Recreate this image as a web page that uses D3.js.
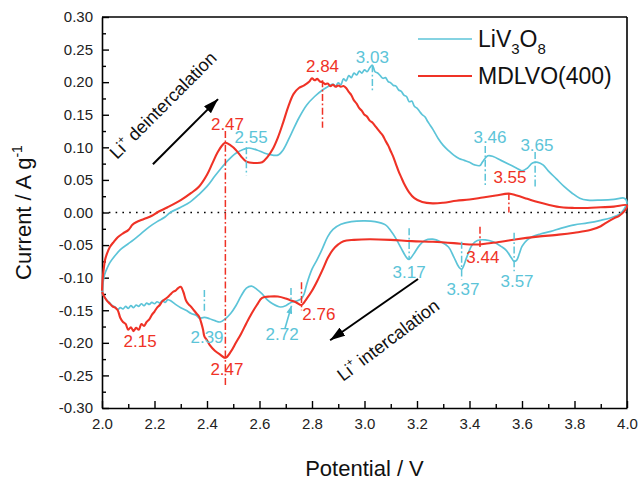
<!DOCTYPE html>
<html>
<head>
<meta charset="utf-8">
<script src="https://cdn.jsdelivr.net/npm/d3@7"></script>
<style>
  body { margin: 0; background: #fff; }
  svg { display: block; }
  text { font-family: "Liberation Sans", Arial, Helvetica, sans-serif; }
</style>
</head>
<body>
<svg id="chart" width="640" height="481"></svg>
<script>
// ---- Cyclic voltammograms: [potential (V), current (A/g)] ----
// LiV3O8, oxidation sweep 2.0 -> 4.0 V
const livoAnodic = [
  [2.000,-0.122],[2.005,-0.105],[2.010,-0.095],[2.020,-0.085],[2.030,-0.077],[2.050,-0.066],
  [2.070,-0.057],[2.100,-0.048],[2.120,-0.042],[2.150,-0.032],[2.180,-0.022],[2.210,-0.014],
  [2.240,-0.007],[2.260,0.000],[2.300,0.008],[2.335,0.016],[2.370,0.028],[2.400,0.040],
  [2.430,0.056],[2.450,0.066],[2.480,0.080],[2.510,0.091],[2.540,0.097],[2.560,0.099],
  [2.590,0.096],[2.620,0.091],[2.650,0.088],[2.670,0.088],[2.690,0.096],[2.720,0.120],
  [2.750,0.145],[2.780,0.165],[2.810,0.178],[2.840,0.188],[2.860,0.193],[2.880,0.197],
  [2.890,0.194],[2.900,0.199],[2.910,0.196],[2.920,0.205],[2.930,0.202],[2.940,0.210],
  [2.950,0.207],[2.960,0.214],[2.970,0.211],[2.980,0.217],[2.990,0.214],[3.000,0.219],
  [3.010,0.216],[3.020,0.222],[3.030,0.226],[3.040,0.216],[3.050,0.214],[3.060,0.210],
  [3.070,0.206],[3.080,0.207],[3.090,0.201],[3.100,0.199],[3.110,0.195],[3.120,0.194],
  [3.130,0.188],[3.140,0.186],[3.150,0.180],[3.160,0.178],[3.170,0.170],[3.180,0.171],
  [3.190,0.163],[3.200,0.160],[3.210,0.155],[3.220,0.150],[3.230,0.147],[3.240,0.140],
  [3.250,0.134],[3.260,0.128],[3.270,0.121],[3.280,0.114],[3.300,0.103],[3.320,0.095],
  [3.340,0.088],[3.360,0.083],[3.380,0.080],[3.400,0.077],[3.420,0.073],[3.440,0.072],
  [3.450,0.078],[3.470,0.087],[3.490,0.086],[3.520,0.080],[3.550,0.074],[3.580,0.068],
  [3.600,0.064],[3.620,0.068],[3.640,0.076],[3.660,0.077],[3.680,0.073],[3.700,0.064],
  [3.730,0.052],[3.760,0.040],[3.790,0.030],[3.820,0.022],[3.850,0.019],[3.900,0.019],
  [3.950,0.020],[3.990,0.022],[4.000,0.015]
];
// LiV3O8, reduction sweep 4.0 -> 2.0 V
const livoCathodic = [
  [4.000,0.015],[3.990,0.006],[3.970,-0.003],[3.940,-0.008],[3.900,-0.012],[3.850,-0.016],
  [3.800,-0.019],[3.750,-0.024],[3.710,-0.029],[3.670,-0.033],[3.640,-0.037],[3.620,-0.042],
  [3.600,-0.052],[3.590,-0.063],[3.580,-0.073],[3.570,-0.075],[3.560,-0.070],[3.540,-0.058],
  [3.520,-0.052],[3.490,-0.045],[3.460,-0.042],[3.430,-0.043],[3.410,-0.050],[3.390,-0.068],
  [3.370,-0.087],[3.360,-0.084],[3.340,-0.068],[3.320,-0.053],[3.290,-0.045],[3.260,-0.041],
  [3.230,-0.043],[3.210,-0.050],[3.190,-0.062],[3.170,-0.072],[3.160,-0.069],[3.140,-0.055],
  [3.120,-0.040],[3.100,-0.028],[3.080,-0.019],[3.040,-0.014],[3.000,-0.013],[2.950,-0.014],
  [2.910,-0.018],[2.880,-0.026],[2.860,-0.037],[2.840,-0.055],[2.820,-0.072],[2.800,-0.087],
  [2.780,-0.110],[2.770,-0.125],[2.760,-0.132],[2.740,-0.136],[2.720,-0.138],[2.700,-0.143],
  [2.680,-0.145],[2.650,-0.140],[2.630,-0.134],[2.610,-0.125],[2.590,-0.118],[2.570,-0.113],
  [2.550,-0.116],[2.530,-0.128],[2.510,-0.143],[2.490,-0.155],[2.470,-0.163],[2.450,-0.168],
  [2.430,-0.166],[2.410,-0.163],[2.390,-0.161],[2.370,-0.162],[2.360,-0.158],[2.340,-0.155],
  [2.320,-0.150],[2.300,-0.146],[2.280,-0.141],[2.260,-0.135],[2.250,-0.134],[2.240,-0.138],
  [2.230,-0.135],[2.220,-0.139],[2.210,-0.137],[2.200,-0.140],[2.190,-0.138],[2.180,-0.141],
  [2.170,-0.139],[2.160,-0.143],[2.150,-0.140],[2.140,-0.144],[2.130,-0.142],[2.120,-0.146],
  [2.110,-0.143],[2.100,-0.147],[2.090,-0.144],[2.080,-0.148],[2.070,-0.146],[2.060,-0.149],
  [2.050,-0.145],[2.040,-0.143],[2.030,-0.139],[2.020,-0.135],[2.010,-0.130],[2.000,-0.124]
];
// MDLVO(400), oxidation sweep 2.0 -> 4.0 V
const mdlvoAnodic = [
  [2.000,-0.120],[2.003,-0.100],[2.007,-0.085],[2.012,-0.072],[2.020,-0.062],[2.030,-0.053],
  [2.045,-0.045],[2.060,-0.038],[2.080,-0.032],[2.100,-0.027],[2.110,-0.022],[2.115,-0.019],
  [2.130,-0.015],[2.160,-0.010],[2.190,-0.005],[2.210,0.000],[2.250,0.008],[2.300,0.019],
  [2.340,0.030],[2.370,0.040],[2.400,0.058],[2.420,0.075],[2.440,0.092],[2.460,0.104],
  [2.470,0.107],[2.490,0.103],[2.510,0.096],[2.530,0.086],[2.550,0.078],[2.580,0.076],
  [2.610,0.077],[2.630,0.085],[2.650,0.097],[2.670,0.115],[2.690,0.138],[2.710,0.163],
  [2.730,0.182],[2.750,0.191],[2.770,0.195],[2.790,0.201],[2.800,0.206],[2.810,0.203],
  [2.820,0.205],[2.830,0.201],[2.840,0.200],[2.850,0.197],[2.860,0.198],[2.870,0.194],
  [2.880,0.196],[2.890,0.193],[2.900,0.195],[2.910,0.193],[2.920,0.194],[2.930,0.191],
  [2.940,0.185],[2.950,0.180],[2.960,0.172],[2.970,0.167],[2.980,0.160],[2.990,0.156],
  [3.000,0.150],[3.010,0.147],[3.020,0.141],[3.030,0.138],[3.040,0.133],[3.050,0.128],
  [3.060,0.123],[3.070,0.118],[3.080,0.110],[3.090,0.103],[3.100,0.094],[3.110,0.085],
  [3.120,0.074],[3.130,0.063],[3.140,0.054],[3.150,0.045],[3.170,0.031],[3.190,0.022],
  [3.220,0.016],[3.260,0.014],[3.300,0.015],[3.350,0.018],[3.400,0.020],[3.450,0.023],
  [3.500,0.026],[3.550,0.029],[3.580,0.026],[3.620,0.021],[3.660,0.016],[3.700,0.012],
  [3.750,0.008],[3.800,0.007],[3.850,0.007],[3.900,0.008],[3.950,0.009],[4.000,0.011]
];
// MDLVO(400), reduction sweep 4.0 -> 2.0 V
const mdlvoCathodic = [
  [4.000,0.011],[3.990,0.002],[3.970,-0.005],[3.950,-0.009],[3.920,-0.016],[3.900,-0.021],
  [3.860,-0.027],[3.800,-0.031],[3.740,-0.034],[3.660,-0.037],[3.580,-0.041],[3.520,-0.045],
  [3.460,-0.048],[3.440,-0.049],[3.400,-0.049],[3.340,-0.047],[3.260,-0.045],[3.180,-0.044],
  [3.100,-0.042],[3.020,-0.041],[2.960,-0.042],[2.920,-0.044],[2.900,-0.049],[2.880,-0.057],
  [2.860,-0.070],[2.840,-0.088],[2.820,-0.105],[2.800,-0.120],[2.780,-0.132],[2.760,-0.142],
  [2.740,-0.138],[2.720,-0.135],[2.700,-0.132],[2.670,-0.129],[2.640,-0.129],[2.610,-0.131],
  [2.590,-0.142],[2.570,-0.155],[2.550,-0.170],[2.530,-0.186],[2.510,-0.200],[2.490,-0.214],
  [2.470,-0.223],[2.450,-0.218],[2.430,-0.212],[2.410,-0.203],[2.400,-0.196],[2.390,-0.190],
  [2.385,-0.180],[2.380,-0.172],[2.370,-0.160],[2.360,-0.155],[2.350,-0.150],[2.340,-0.145],
  [2.330,-0.141],[2.320,-0.135],[2.310,-0.122],[2.300,-0.114],[2.290,-0.116],[2.280,-0.120],
  [2.270,-0.122],[2.260,-0.126],[2.250,-0.130],[2.240,-0.133],[2.230,-0.136],[2.220,-0.142],
  [2.210,-0.146],[2.200,-0.152],[2.190,-0.157],[2.180,-0.164],[2.170,-0.168],[2.160,-0.174],
  [2.150,-0.171],[2.140,-0.180],[2.130,-0.177],[2.120,-0.182],[2.110,-0.176],[2.100,-0.180],
  [2.090,-0.171],[2.080,-0.168],[2.070,-0.162],[2.060,-0.150],[2.050,-0.146],[2.040,-0.144],
  [2.030,-0.140],[2.020,-0.136],[2.010,-0.130],[2.000,-0.122]
];

// Peak potentials (V)
const livoOxPeaks = [2.55, 3.03, 3.46, 3.65];
const livoRedPeaks = [3.57, 3.37, 3.17, 2.72, 2.39];
const mdlvoOxPeaks = [2.47, 2.84, 3.55];
const mdlvoRedPeaks = [3.44, 2.76, 2.47, 2.15];

// Axis ticks and labels
const xTicks = [2.0, 2.2, 2.4, 2.6, 2.8, 3.0, 3.2, 3.4, 3.6, 3.8, 4.0];
const xMinorTicks = [2.1, 2.3, 2.5, 2.7, 2.9, 3.1, 3.3, 3.5, 3.7, 3.9];
const yTicks = [-0.30, -0.25, -0.20, -0.15, -0.10, -0.05, 0.00, 0.05, 0.10, 0.15, 0.20, 0.25, 0.30];
const yMinorTicks = [-0.275, -0.225, -0.175, -0.125, -0.075, -0.025, 0.025, 0.075, 0.125, 0.175, 0.225, 0.275];
const seriesNames = ["LiV3O8", "MDLVO(400)"];

// ---- drawing ----
const CYAN = "#5cc4d8", RED = "#ef3226";
const m = { l: 102, r: 627, t: 17, b: 408 };
const svg = d3.select("#chart");
const x = d3.scaleLinear().domain([2.0, 4.0]).range([m.l, m.r]);
const y = d3.scaleLinear().domain([-0.30, 0.30]).range([m.b, m.t]);

const defs = svg.append("defs");
function arrowMarker(id, color, len, wid) {
  defs.append("marker").attr("id", id)
    .attr("markerUnits", "userSpaceOnUse")
    .attr("viewBox", `0 ${-wid / 2} ${len} ${wid}`)
    .attr("refX", len).attr("refY", 0)
    .attr("markerWidth", len).attr("markerHeight", wid)
    .attr("orient", "auto")
    .append("path").attr("d", `M0,${-wid / 2}L${len},0L0,${wid / 2}Z`).attr("fill", color);
}
arrowMarker("headBlack", "#000", 15, 10);
arrowMarker("headCyan", CYAN, 8, 6);

// zero-current reference
svg.append("line")
  .attr("x1", x(2.0)).attr("x2", x(4.0)).attr("y1", y(0)).attr("y2", y(0))
  .attr("stroke", "#000").attr("stroke-width", 1.6).attr("stroke-dasharray", "1.6,5.2");

// axes
const fmtY = d => d.toFixed(2).replace("-0.00", "0.00");
svg.append("g").attr("transform", `translate(0,${m.b})`)
  .call(d3.axisBottom(x).tickValues(xTicks).tickFormat(d => d.toFixed(1))
    .tickSizeInner(-7).tickSizeOuter(0).tickPadding(10));
svg.append("g").attr("transform", `translate(0,${m.b})`)
  .call(d3.axisBottom(x).tickValues(xMinorTicks).tickFormat("")
    .tickSizeInner(-4).tickSizeOuter(0))
  .select(".domain").remove();
svg.append("g").attr("transform", `translate(${m.l},0)`)
  .call(d3.axisLeft(y).tickValues(yTicks).tickFormat(fmtY)
    .tickSizeInner(-7).tickSizeOuter(0).tickPadding(9));
svg.append("g").attr("transform", `translate(${m.l},0)`)
  .call(d3.axisLeft(y).tickValues(yMinorTicks).tickFormat("")
    .tickSizeInner(-4).tickSizeOuter(0))
  .select(".domain").remove();
svg.selectAll(".tick line").attr("stroke", "#000").attr("stroke-width", 1.4);
svg.selectAll(".domain").attr("stroke", "#000").attr("stroke-width", 1.6);
svg.selectAll(".tick text").attr("font-size", 15).attr("fill", "#222")
  .attr("font-family", '"Liberation Sans", Arial, sans-serif');

// top and right frame
svg.append("line").attr("x1", x(2.0)).attr("x2", x(4.0)).attr("y1", y(0.30)).attr("y2", y(0.30))
  .attr("stroke", "#000").attr("stroke-width", 1.6);
svg.append("line").attr("x1", x(4.0)).attr("x2", x(4.0)).attr("y1", y(0.30)).attr("y2", y(-0.30))
  .attr("stroke", "#000").attr("stroke-width", 1.6);

// axis titles
svg.append("text").attr("x", (m.l + m.r) / 2).attr("y", 476).attr("text-anchor", "middle")
  .attr("font-size", 22).attr("fill", "#111").text("Potential / V");
const yt = svg.append("text").attr("transform", `translate(31,${(m.t + m.b) / 2}) rotate(-90)`)
  .attr("text-anchor", "middle").attr("font-size", 22).attr("fill", "#111");
yt.append("tspan").text("Current / A g");
yt.append("tspan").attr("font-size", 14).attr("dy", -9).text("-1");

// guide lines at peaks (dash-dot)
const guideDash = "7,2.5,1.8,2.5";
function guide(v, i0, i1, color) {
  svg.append("line").attr("x1", x(v)).attr("x2", x(v)).attr("y1", y(i0)).attr("y2", y(i1))
    .attr("stroke", color).attr("stroke-width", 1.5).attr("stroke-dasharray", guideDash);
}
function peakLabel(v, dv, i, color, anchor) {
  svg.append("text").attr("x", x(v + dv)).attr("y", y(i))
    .attr("text-anchor", anchor || "middle").attr("font-size", 17).attr("fill", color)
    .text(v.toFixed(2));
}

// placement of guide segments and labels, in data units
const livoOxPlace = [
  { line: [0.100, 0.057], dv: 0.018, li: 0.107 },
  { line: [0.226, 0.185], dv: 0.000, li: 0.229 },
  { line: [0.102, 0.042], dv: 0.018, li: 0.107 },
  { line: [0.093, 0.036], dv: 0.007, li: 0.094 }
];
const livoRedPlace = [
  { line: [-0.031, -0.090], dv: 0.011, li: -0.114 },
  { line: [-0.045, -0.103], dv: 0.005, li: -0.127 },
  { line: [-0.024, -0.073], dv: 0.000, li: -0.1005 },
  { line: [-0.116, -0.135], dv: -0.034, li: -0.196 },
  { line: [-0.119, -0.154], dv: 0.010, li: -0.200 }
];
const mdlvoOxPlace = [
  { line: [0.125, 0.000], dv: 0.008, li: 0.1265 },
  { line: [0.203, 0.130], dv: 0.000, li: 0.2155 },
  { line: [0.030, 0.000], dv: 0.004, li: 0.045 }
];
const mdlvoRedPlace = [
  { line: [-0.022, -0.053], dv: 0.011, li: -0.0775 },
  { line: [-0.107, -0.150], dv: 0.003, li: -0.165, anchor: "start" },
  { line: [0.000, -0.265], dv: 0.006, li: -0.249 },
  { line: null, dv: -0.005, li: -0.206 }
];

// curves
const line = d3.line().x(d => x(d[0])).y(d => y(d[1])).curve(d3.curveCatmullRom.alpha(0.5));
svg.append("path").datum(livoAnodic.concat(livoCathodic.slice(1)))
  .attr("d", line).attr("fill", "none").attr("stroke", CYAN).attr("stroke-width", 1.7)
  .attr("stroke-linejoin", "round");
svg.append("path").datum(mdlvoAnodic.concat(mdlvoCathodic.slice(1)))
  .attr("d", line).attr("fill", "none").attr("stroke", RED).attr("stroke-width", 2.1)
  .attr("stroke-linejoin", "round");

livoOxPeaks.forEach((v, k) => { const p = livoOxPlace[k]; if (p.line) guide(v, p.line[0], p.line[1], CYAN); peakLabel(v, p.dv, p.li, CYAN, p.anchor); });
livoRedPeaks.forEach((v, k) => { const p = livoRedPlace[k]; if (p.line) guide(v, p.line[0], p.line[1], CYAN); peakLabel(v, p.dv, p.li, CYAN, p.anchor); });
mdlvoOxPeaks.forEach((v, k) => { const p = mdlvoOxPlace[k]; if (p.line) guide(v, p.line[0], p.line[1], RED); peakLabel(v, p.dv, p.li, RED, p.anchor); });
mdlvoRedPeaks.forEach((v, k) => { const p = mdlvoRedPlace[k]; if (p.line) guide(v, p.line[0], p.line[1], RED); peakLabel(v, p.dv, p.li, RED, p.anchor); });

// pointer from the 2.72 label to the shoulder
svg.append("line").attr("x1", x(2.697)).attr("y1", y(-0.178)).attr("x2", x(2.722)).attr("y2", y(-0.143))
  .attr("stroke", CYAN).attr("stroke-width", 1.6).attr("marker-end", "url(#headCyan)");

// sweep direction arrows and captions
svg.append("line").attr("x1", x(2.194)).attr("y1", y(0.074)).attr("x2", x(2.442)).attr("y2", y(0.174))
  .attr("stroke", "#000").attr("stroke-width", 2).attr("marker-end", "url(#headBlack)");
svg.append("line").attr("x1", x(3.204)).attr("y1", y(-0.102)).attr("x2", x(2.869)).attr("y2", y(-0.196))
  .attr("stroke", "#000").attr("stroke-width", 2).attr("marker-end", "url(#headBlack)");

function caption(v, i, angle, word) {
  const t = svg.append("text").attr("transform", `translate(${x(v)},${y(i)}) rotate(${angle})`)
    .attr("font-size", 18).attr("fill", "#111");
  t.append("tspan").text("Li");
  t.append("tspan").attr("font-size", 11).attr("dy", -8).text("+");
  t.append("tspan").attr("dy", 8).text(" " + word);
}
caption(2.057, 0.0806, -45, "deintercalation");
caption(2.918, -0.260, -37, "intercalation");

// legend
const lg = svg.append("g");
const legendRows = [{ c: CYAN, w: 1.7, y: 39, base: 47 }, { c: RED, w: 2.1, y: 76, base: 84 }];
legendRows.forEach((r, k) => {
  lg.append("line").attr("x1", 418).attr("x2", 472).attr("y1", r.y).attr("y2", r.y)
    .attr("stroke", r.c).attr("stroke-width", r.w);
  const t = lg.append("text").attr("x", 478).attr("y", r.base).attr("font-size", 23).attr("fill", "#111");
  const name = seriesNames[k];
  if (name === "LiV3O8") {
    t.append("tspan").text("LiV");
    t.append("tspan").attr("font-size", 15).attr("dy", 7).text("3");
    t.append("tspan").attr("dy", -7).text("O");
    t.append("tspan").attr("font-size", 15).attr("dy", 7).text("8");
  } else {
    t.text(name);
  }
});
</script>
</body>
</html>
